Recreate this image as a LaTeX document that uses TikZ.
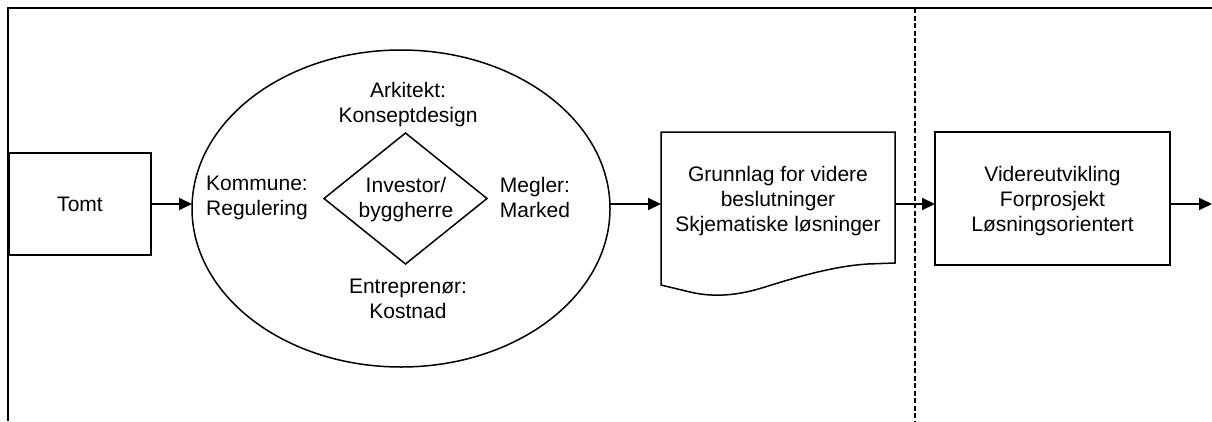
\documentclass[tikz,border=0pt]{standalone}
\usepackage{fontspec}
\setmainfont{Liberation Sans}
\usetikzlibrary{shapes.geometric,arrows.meta,calc}
\begin{document}
\begin{tikzpicture}[x=1pt,y=-1pt,
  every node/.style={font=\fontsize{21}{25}\selectfont, align=center, inner sep=0pt, outer sep=0pt},
  box/.style={draw, line width=1.5pt},
  arr/.style={line width=2pt, -{Triangle[length=13pt,width=12pt]}},
  frame/.style={line width=2.2pt},
  divider/.style={line width=2.4pt, dash pattern=on 5pt off 2.5pt}]
\useasboundingbox (0,0) rectangle (1212,421);
% frame
\draw[frame] (8,421) -- (8,8) -- (1212,8);
% divider
\coordinate (dtop) at (915,8);
\coordinate (dbot) at (915,421);
\draw[divider] (dtop) -- (dbot);
% nodes
\node[box, minimum width=142, minimum height=102] (tomt) at (80,204) {Tomt};
\node[box, ellipse, minimum width=418, minimum height=317] (ell) at (401,208.5) {};
\node[box, diamond, minimum width=163, minimum height=131] (dia) at (405.5,198.5) {};
\node (inv) at (406,200) {Investor/\\byggherre};
\node (ark) at (408,105) {Arkitekt:\\Konseptdesign};
\node (kom) at (257,197.5) {Kommune:\\Regulering};
\node (meg) at (535,197.5) {Megler:\\Marked};
\node (ent) at (408,299) {Entreprenør:\\Kostnad};
% document shape
\node[minimum width=234, minimum height=144] (docbox) at (778,204) {};
\draw[line width=1.5pt] (docbox.north west) -- (docbox.north east) -- (895,263) -- (868,264)
  .. controls (835,266) and (800,276) .. (765,287)
  .. controls (740,295) and (715,298) .. (690,292)
  -- (661,285) -- cycle;
\node (doctext) at (778,201) {Grunnlag for videre\\beslutninger\\Skjematiske løsninger};
% last box
\node[box, minimum width=235, minimum height=133] (vid) at (1052.5,198.5) {};
\node (vidtext) at (1052.5,201) {Videreutvikling\\Forprosjekt\\Løsningsorientert};
\coordinate (endc) at (1212,204);
% connectors
\draw[arr] (tomt.east) -- (tomt.east -| ell.west);
\draw[arr] (ell.east |- docbox.west) -- (docbox.west);
\draw[arr] (docbox.east) -- (docbox.east -| vid.west);
\draw[arr] (vid.east |- endc) -- (endc);
\end{tikzpicture}
\end{document}
